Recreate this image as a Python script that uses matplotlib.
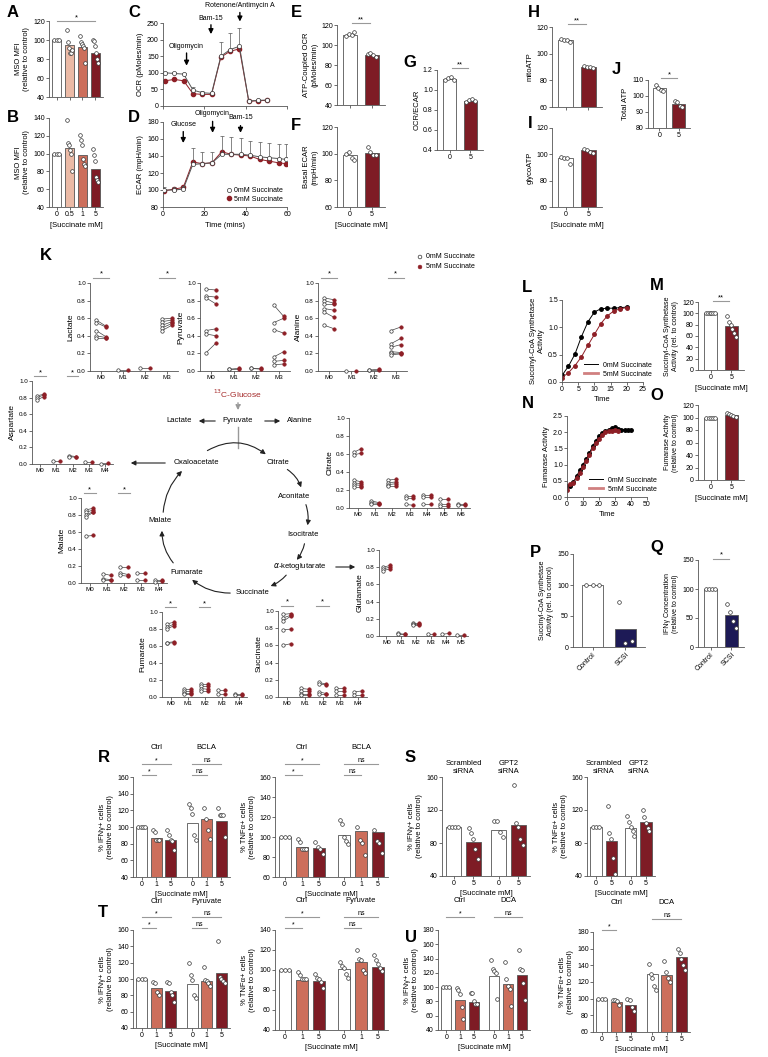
import numpy as np
import matplotlib.pyplot as plt

plt.rcParams['font.family'] = ['Liberation Sans', 'DejaVu Sans']

W, H = 768, 1057
fig = plt.figure(figsize=(W / 100, H / 100), dpi=100)

WHITE = 'white'
PEACH = '#EBBAA6'
SALMON = '#CC6E5B'
DARKRED = '#7E1C25'
NAVY = '#1D1A56'
RED = '#8E1F26'
EDGE = '#555555'

# ---------------- data ----------------
dose4 = ['0', '0.5', '1', '5']
a_mean = [100, 95, 93, 86]
a_pts = [[100, 100, 100], [111, 98, 92, 86, 86, 90], [104, 98, 96, 94, 92, 76], [100, 99, 94, 86, 80, 76]]
b_mean = [100, 106, 98, 83]
b_pts = [[100, 100, 100], [138, 112, 110, 104, 100, 80], [121, 115, 110, 94, 88, 86], [105, 98, 92, 74, 70, 68]]

t_ocr = [1, 5.5, 10, 14.5, 19, 23.5, 28, 32.5, 37, 41.5, 46, 50.5]
ocr0 = [100, 98, 96, 48, 40, 38, 150, 170, 180, 15, 17, 18]
ocr5 = [76, 80, 76, 37, 35, 35, 147, 165, 172, 14, 16, 17]
ocr0_err = [3, 3, 4, 8, 5, 4, 43, 50, 55, 2, 2, 2]

t_ecar = [0.7, 5.2, 9.8, 14.4, 19.0, 23.7, 28.4, 33.0, 37.6, 42.1, 46.7, 51.3, 55.9, 59.5]
ecar0 = [100, 100, 101, 130, 131, 132, 142, 142, 142, 141, 139, 138, 137, 136]
ecar5 = [99, 101, 103, 133, 131, 132, 145, 142, 141, 140, 136, 134, 132, 131]
ecar0_err = [4, 4, 4, 19, 14, 13, 21, 20, 19, 17, 18, 17, 17, 18]

dose2 = ['0', '5']
e_mean = [110, 90]
e_pts = [[109, 111, 110, 113], [91, 92, 90, 88]]
f_mean = [99, 100.5]
f_pts = [[100, 101, 97, 95], [105, 101, 99, 99]]
g_mean = [1.11, 0.89]
g_pts = [[1.10, 1.12, 1.13, 1.10], [0.88, 0.90, 0.91, 0.89]]
h_mean = [110, 90]
h_pts = [[111, 110, 110, 109], [91, 90, 90, 89]]
i_mean = [97, 103]
i_pts = [[98, 97, 97, 93], [104, 103, 102, 101]]
j_mean = [105, 95]
j_pts = [[107, 105, 104, 103], [97, 96, 94, 93]]

# isotopologue fractions: (open = 0mM, filled = 5mM)
lac_open = [[0.58, 0.55, 0.46, 0.40, 0.37], [0.01], [0.03], [0.59, 0.56, 0.52, 0.49, 0.46]]
lac_fill = [[0.51, 0.50, 0.39, 0.38, 0.37], [0.01], [0.03], [0.60, 0.58, 0.56, 0.54, 0.52]]
pyr_open = [[0.93, 0.85, 0.83, 0.46, 0.42, 0.21], [0.02, 0.02], [0.03, 0.03], [0.75, 0.55, 0.47, 0.16, 0.11, 0.07]]
pyr_fill = [[0.92, 0.84, 0.76, 0.48, 0.40, 0.32], [0.02, 0.03], [0.03, 0.02], [0.62, 0.60, 0.43, 0.22, 0.12, 0.08]]
ala_open = [[0.83, 0.80, 0.76, 0.71, 0.67, 0.52], [0.0], [0.01, 0.01], [0.46, 0.31, 0.27, 0.22, 0.20, 0.18]]
ala_fill = [[0.81, 0.77, 0.76, 0.69, 0.61, 0.48], [0.0], [0.01, 0.02], [0.50, 0.37, 0.30, 0.21, 0.19, 0.20]]
asp_open = [[0.82, 0.80, 0.77], [0.04], [0.10, 0.09], [0.03], [0.0]]
asp_fill = [[0.84, 0.83, 0.81], [0.04], [0.09, 0.08], [0.03], [0.01]]
mal_open = [[0.86, 0.83, 0.80, 0.78, 0.55], [0.11, 0.05, 0.03], [0.19, 0.12, 0.09], [0.12, 0.03], [0.04, 0.01]]
mal_fill = [[0.88, 0.86, 0.84, 0.83, 0.56], [0.09, 0.04, 0.03], [0.19, 0.10, 0.08], [0.12, 0.03], [0.04, 0.02]]
fum_open = [[0.86, 0.82, 0.80, 0.64, 0.63], [0.09, 0.07, 0.05, 0.03], [0.15, 0.13, 0.10, 0.07], [0.08, 0.03], [0.04, 0.02]]
fum_fill = [[0.88, 0.86, 0.84, 0.65, 0.64], [0.09, 0.07, 0.05, 0.03], [0.15, 0.13, 0.09, 0.07], [0.08, 0.03], [0.04, 0.02]]
suc_open = [[0.96, 0.92, 0.88, 0.78, 0.60], [0.10, 0.07, 0.04, 0.02], [0.17, 0.15, 0.06, 0.03], [0.10, 0.07, 0.02], [0.06, 0.02]]
suc_fill = [[0.97, 0.95, 0.94, 0.79, 0.62], [0.09, 0.07, 0.04, 0.02], [0.15, 0.14, 0.04, 0.03], [0.10, 0.07, 0.02], [0.07, 0.02]]
cit_open = [[0.62, 0.59, 0.31, 0.28, 0.26, 0.23], [0.08, 0.06, 0.04], [0.31, 0.28, 0.26, 0.24], [0.13, 0.11, 0.04],
            [0.14, 0.12, 0.04], [0.10, 0.05, 0.02], [0.05, 0.03]]
cit_fill = [[0.66, 0.61, 0.29, 0.27, 0.25, 0.23], [0.06, 0.05, 0.04], [0.32, 0.29, 0.27, 0.24], [0.13, 0.11, 0.03],
            [0.14, 0.12, 0.04], [0.10, 0.05, 0.02], [0.05, 0.03]]
glu_open = [[0.80, 0.78, 0.76], [0.03, 0.02], [0.15, 0.14, 0.13], [0.02], [0.02], [0.01]]
glu_fill = [[0.82, 0.80, 0.78], [0.02, 0.02], [0.15, 0.14, 0.13], [0.02], [0.03], [0.01]]

t_scs = [0, 2, 4, 6, 8, 10, 12, 14, 16, 18, 20]
scs0 = [0.12, 0.29, 0.51, 0.83, 1.10, 1.28, 1.34, 1.35, 1.35, 1.36, 1.37]
scs5 = [0.08, 0.17, 0.30, 0.46, 0.67, 0.87, 1.07, 1.21, 1.30, 1.34, 1.36]
m_mean = [100, 77]
m_pts = [[100, 100, 100, 100, 100, 100], [95, 85, 80, 72, 65, 58]]

t_fum0 = list(range(0, 41, 2))
fum0 = [0.33, 0.35, 0.45, 0.65, 0.82, 1.00, 1.17, 1.35, 1.57, 1.73, 1.88, 1.97, 2.03, 2.07, 2.12, 2.15,
        2.10, 2.08, 2.08, 2.08, 2.07]
t_fum5 = list(range(0, 33, 2))
fum5 = [0.22, 0.40, 0.42, 0.60, 0.75, 0.93, 1.12, 1.30, 1.50, 1.66, 1.80, 1.92, 2.00, 2.03, 2.05, 2.07, 2.05]
o_mean = [100, 104]
o_pts = [[100, 100, 100, 100, 100], [107, 106, 104, 102, 101]]

ctrl_scsi = ['Control', 'SCSi']
p_mean = [100, 29]
p_pts = [[100, 100, 100], [72, 6, 10]]
q_mean = [100, 55]
q_pts = [[100, 100, 100, 100], [75, 60, 45, 32]]

dose3 = ['0', '1', '5', '0', '1', '5']
r_ifn_mean = [100, 87, 84, 105, 110, 107]
r_ifn_pts = [[100, 100, 100, 100], [97, 94, 85, 85, 85], [97, 90, 84, 83, 72],
             [128, 123, 116, 91, 84], [123, 110, 97, 86], [123, 115, 115, 115, 88]]
r_tnf_mean = [100, 90, 89, 102, 106, 105]
r_tnf_pts = [[100, 100, 100], [98, 95, 88, 88, 88], [95, 90, 88, 83],
             [117, 113, 100, 96, 93], [110, 97, 94, 82], [107, 96, 94, 84]]
s_ifn_mean = [100, 81, 96, 102]
s_ifn_pts = [[100, 100, 100, 100], [98, 92, 85, 73, 61], [107, 107, 93, 87], [150, 104, 100, 85, 78]]
s_tnf_mean = [100, 83, 98, 106]
s_tnf_pts = [[100, 100, 100], [125, 92, 85, 62, 43], [113, 106, 100, 95, 88], [120, 112, 104, 98, 95]]
t_ifn_mean = [100, 89, 85, 94, 98, 107]
t_ifn_pts = [[100, 100, 100], [96, 95, 84, 80], [96, 95, 84, 81, 72],
             [120, 105, 99, 80, 77], [115, 99, 97, 95, 92], [146, 102, 100, 98, 95]]
t_tnf_mean = [100, 90, 89, 101, 108, 103]
t_tnf_pts = [[100, 100, 100], [98, 95, 91, 91, 91], [96, 92, 91, 88, 82],
             [108, 104, 102, 96, 92], [120, 111, 110, 100, 97], [115, 110, 106, 102, 99]]
u_ifn_mean = [100, 82, 79, 116, 104, 117]
u_ifn_pts = [[100, 100, 100], [99, 96, 90, 72, 55], [92, 92, 80, 77, 77],
             [138, 125, 122, 120, 84], [135, 111, 102, 98, 74], [152, 125, 124, 106, 82]]
u_tnf_mean = [100, 96, 92, 130, 128, 150]
u_tnf_pts = [[100, 100, 100], [99, 98, 97, 93], [100, 98, 90, 85],
             [142, 130, 125, 115, 110], [145, 132, 125, 120], [160, 155, 148, 140, 135]]


# ---------------- helpers ----------------
def box(l, t, r, b):
    ax = fig.add_axes([l / W, 1 - b / H, (r - l) / W, (b - t) / H])
    for s in ('top', 'right'):
        ax.spines[s].set_visible(False)
    for s in ('left', 'bottom'):
        ax.spines[s].set_linewidth(0.6)
        ax.spines[s].set_color('#555555')
    ax.tick_params(width=0.6, length=2, labelsize=5, pad=1, color='#555555')
    ax.patch.set_alpha(0)
    return ax


def letter(x, y, s):
    fig.text(x / W, 1 - y / H, s, fontsize=12, fontweight='bold', ha='left', va='top')


def bars(ax, xs, means, pts, colors, width=0.7, ms=7):
    ax.bar(xs, means, width=width, color=colors, edgecolor=EDGE, linewidth=0.6, zorder=2)
    for x, p in zip(xs, pts):
        n = len(p)
        off = np.linspace(-width * 0.3, width * 0.3, n) if n > 1 else np.zeros(1)
        ax.scatter(x + off, p, s=ms, facecolor='white', edgecolor='#333333', linewidth=0.5,
                   zorder=3, clip_on=False)


def sig(ax, x0, x1, y, txt, fs=5.5):
    ax.plot([x0, x1], [y, y], color='#999999', lw=0.8, clip_on=False)
    ax.text((x0 + x1) / 2, y, txt, ha='center', va='bottom', fontsize=fs, clip_on=False)


def ylab(ax, s, fs=5.5, pad=2):
    ax.set_ylabel(s, fontsize=fs, labelpad=pad)


def iso(ax, opn, fil, stars, name):
    n = len(opn)
    dx = 0.22
    for i in range(n):
        for a, b in zip(opn[i], fil[i]):
            ax.plot([i - dx, i + dx], [a, b], color='#444444', lw=0.5, zorder=2)
        ax.scatter(np.full(len(opn[i]), i - dx), opn[i], s=6, facecolor='white', edgecolor='#333333',
                   linewidth=0.5, zorder=3, clip_on=False)
        ax.scatter(np.full(len(fil[i]), i + dx), fil[i], s=6, facecolor=RED, edgecolor=RED,
                   linewidth=0.5, zorder=3, clip_on=False)
    for i in stars:
        sig(ax, i - 0.35, i + 0.35, 1.06, '*')
    ax.set_ylim(0, 1)
    ax.set_yticks(np.arange(0, 1.01, 0.2))
    ax.set_yticklabels(['%.1f' % v for v in np.arange(0, 1.01, 0.2)])
    ax.set_xlim(-0.5, n - 0.5)
    ax.set_xticks(range(n))
    ax.set_xticklabels(['M%d' % i for i in range(n)])
    ax.tick_params(labelsize=4.5)
    ylab(ax, name, fs=6)


def line_legend(ax):
    ax.legend(handles=[plt.Line2D([], [], color='k', lw=0.7), plt.Line2D([], [], color='#D08080', lw=2)],
              labels=['0mM Succinate', '5mM Succinate'], loc='lower left', bbox_to_anchor=(0.22, 0.0),
              fontsize=5, frameon=False, handlelength=2.0, borderaxespad=0.2, labelspacing=0.3)


# ---------------- A / B ----------------
ax = box(49, 21, 103, 97)
bars(ax, range(4), a_mean, a_pts, [WHITE, PEACH, SALMON, DARKRED])
ax.set_ylim(40, 120)
ax.set_yticks(range(40, 121, 20))
ax.set_xlim(-0.6, 3.6)
ax.set_xticks(range(4))
ax.set_xticklabels([])
sig(ax, 0, 3, 120, '*')
ylab(ax, 'MSO MFI\n(relative to control)')

ax = box(49, 118, 103, 207)
bars(ax, range(4), b_mean, b_pts, [WHITE, PEACH, SALMON, DARKRED])
ax.set_ylim(40, 140)
ax.set_yticks(range(40, 141, 20))
ax.set_xlim(-0.6, 3.6)
ax.set_xticks(range(4))
ax.set_xticklabels(dose4)
ax.set_xlabel('[Succinate mM]', fontsize=5.5, labelpad=3)
ylab(ax, 'MSO MFI\n(relative to control)')

# ---------------- C / D ----------------
ax = box(163, 23, 287, 106)
ax.errorbar(t_ocr, ocr0, yerr=[np.zeros(len(ocr0)), ocr0_err], color='#555555', lw=0.7, elinewidth=0.5,
            capsize=1.5, capthick=0.5, marker='o', ms=3, mfc='white', mec='#333333', mew=0.5, zorder=3)
ax.plot(t_ocr, ocr5, color=RED, lw=0.7, marker='o', ms=3, mfc=RED, mec=RED, zorder=2)
ax.set_xlim(0, 60)
ax.set_ylim(0, 250)
ax.set_yticks(range(0, 251, 50))
ax.set_xticks([0, 20, 40, 60])
ax.set_xticklabels([])
ylab(ax, 'OCR (pMoles/min)')
for t, y0, y1, lab, ly in [(11.4, 168, 113, 'Oligomycin', 180), (23.2, 253, 208, 'Bam-15', 265),
                           (37.2, 290, 246, 'Rotenone/Antimycin A', 302)]:
    ax.annotate('', xy=(t, y1), xytext=(t, y0), annotation_clip=False,
                arrowprops=dict(arrowstyle='-|>', color='k', lw=1.0, mutation_scale=7))
    ax.text(t, ly, lab, ha='center', va='center', fontsize=5, clip_on=False)

ax = box(163, 122, 287, 207)
ax.errorbar(t_ecar, ecar0, yerr=[np.zeros(len(ecar0)), ecar0_err], color='#555555', lw=0.7,
            elinewidth=0.5, capsize=1.5, capthick=0.5, marker='o', ms=3, mfc='white', mec='#333333',
            mew=0.5, zorder=3)
ax.plot(t_ecar, ecar5, color=RED, lw=0.7, marker='o', ms=3, mfc=RED, mec=RED, zorder=2)
ax.set_xlim(0, 60)
ax.set_ylim(80, 180)
ax.set_yticks(range(80, 181, 20))
ax.set_xticks([0, 20, 40, 60])
ax.set_xlabel('Time (mins)', fontsize=5.5, labelpad=3)
ylab(ax, 'ECAR (mpH/min)')
for t, y0, y1, lab, ly in [(9.8, 172, 152, 'Glucose', 177), (24, 184, 164, 'Oligomycin', 190),
                           (37.5, 179, 164, 'Bam-15', 185)]:
    ax.annotate('', xy=(t, y1), xytext=(t, y0), annotation_clip=False,
                arrowprops=dict(arrowstyle='-|>', color='k', lw=1.0, mutation_scale=7))
    ax.text(t, ly, lab, ha='center', va='center', fontsize=5, clip_on=False)
ax.legend([plt.Line2D([], [], ls='', marker='o', ms=3, mfc='white', mec='#333333', mew=0.5),
           plt.Line2D([], [], ls='', marker='o', ms=3, mfc=RED, mec=RED)],
          ['0mM Succinate', '5mM Succinate'], loc='lower right', fontsize=5, frameon=False,
          handlelength=0.8, handletextpad=0.3, borderaxespad=0.2, labelspacing=0.2)


# ---------------- E - J ----------------
def two_bar(l, t, r, b, means, pts, ylim, ticks, colors=(WHITE, DARKRED), xlabels=True, fmt=None):
    ax = box(l, t, r, b)
    bars(ax, [0, 1], means, pts, list(colors), width=0.65)
    ax.set_ylim(*ylim)
    ax.set_yticks(ticks)
    if fmt:
        ax.set_yticklabels([fmt % v for v in ticks])
    ax.set_xlim(-0.6, 1.6)
    ax.set_xticks([0, 1])
    ax.set_xticklabels(dose2 if xlabels else [])
    return ax


ax = two_bar(337, 25, 385, 105, e_mean, e_pts, (40, 120), range(40, 121, 20), xlabels=False)
sig(ax, 0.1, 0.9, 122, '**')
ylab(ax, 'ATP-Coupled OCR\n(pMoles/min)')
ax = two_bar(337, 127, 385, 207, f_mean, f_pts, (60, 120), range(60, 121, 20))
ylab(ax, 'Basal ECAR\n(mpH/min)')
ax.set_xlabel('[Succinate mM]', fontsize=5.5, labelpad=3)
ax = two_bar(437, 70, 483, 150, g_mean, g_pts, (0.4, 1.2), np.arange(0.4, 1.21, 0.2), fmt='%.1f')
sig(ax, 0.1, 0.9, 1.22, '**')
ylab(ax, 'OCR/ECAR')
ax = two_bar(552, 27, 602, 107, h_mean, h_pts, (60, 120), range(60, 121, 20), xlabels=False)
sig(ax, 0.1, 0.9, 122, '**')
ylab(ax, 'mitoATP')
ax = two_bar(552, 128, 602, 207, i_mean, i_pts, (60, 120), range(60, 121, 20))
ylab(ax, 'glycoATP')
ax.set_xlabel('[Succinate mM]', fontsize=5.5, labelpad=3)
ax = two_bar(648, 80, 690, 128, j_mean, j_pts, (80, 110), range(80, 111, 10))
sig(ax, 0.1, 0.9, 111, '*')
ylab(ax, 'Total ATP')

# ---------------- K ----------------
iso(box(90, 283, 178, 371), lac_open, lac_fill, [0, 3], 'Lactate')
iso(box(200, 283, 290, 371), pyr_open, pyr_fill, [], 'Pyruvate')
iso(box(318, 283, 407, 371), ala_open, ala_fill, [0, 3], 'Alanine')
iso(box(32, 381, 113, 464), asp_open, asp_fill, [0, 2], 'Aspartate')
iso(box(81, 498, 167, 583), mal_open, mal_fill, [0, 2], 'Malate')
iso(box(162, 612, 247, 697), fum_open, fum_fill, [0, 2], 'Fumarate')
iso(box(278, 611, 367, 697), suc_open, suc_fill, [0, 2], 'Succinate')
iso(box(349, 418, 470, 508), cit_open, cit_fill, [], 'Citrate')
iso(box(379, 550, 468, 636), glu_open, glu_fill, [], 'Glutamate')

# overlay in pixel coordinates for legend + pathway
lg = fig.add_axes([0, 0, 1, 1])
lg.set_xlim(0, W)
lg.set_ylim(H, 0)
lg.axis('off')
lg.scatter([420, 420], [257, 267], s=7, facecolor=['white', RED], edgecolor=['#333333', RED], lw=0.5)
lg.text(426, 257, '0mM Succinate', fontsize=5, va='center')
lg.text(426, 267, '5mM Succinate', fontsize=5, va='center')

tfs = 5.5
lg.text(238, 394, '$^{13}$C-Glucose', color='#A52A2A', fontsize=6, ha='center', va='center')
lg.annotate('', xy=(238, 413), xytext=(238, 400),
            arrowprops=dict(arrowstyle='-|>', color='#999999', lw=1.0, ls=(0, (1, 1)), mutation_scale=7))
for x, y, s in [(179, 420, 'Lactate'), (238, 420, 'Pyruvate'), (300, 420, 'Alanine'),
                (196, 463, 'Oxaloacetate'), (278, 462, 'Citrate'), (294, 497, 'Aconitate'),
                (303, 535, 'Isocitrate'), (300, 567, r'$\alpha$-ketoglutarate'), (253, 593, 'Succinate'),
                (187, 572, 'Fumarate'), (160, 521, 'Malate')]:
    lg.text(x, y, s, fontsize=tfs, ha='center', va='center')
arrow_kw = dict(arrowstyle='-|>', color='#222222', lw=0.8, mutation_scale=7)
for (x0, y0), (x1, y1) in [((218, 421), (196, 421)), ((262, 421), (283, 421)),
                           ((168, 463), (128, 463)), ((333, 567), (358, 567))]:
    lg.annotate('', xy=(x1, y1), xytext=(x0, y0), arrowprops=arrow_kw)
lg.plot([238, 238], [427, 448], color='#999999', lw=1.0)
for (x0, y0), (x1, y1), rad in [((205, 452), (268, 456), -0.35), ((285, 468), (302, 490), -0.2),
                                ((305, 502), (307, 528), -0.15), ((305, 541), (295, 562), -0.15),
                                ((288, 573), (268, 587), -0.15), ((233, 593), (190, 578), -0.2),
                                ((175, 565), (162, 528), -0.2), ((163, 515), (184, 469), -0.2)]:
    lg.annotate('', xy=(x1, y1), xytext=(x0, y0),
                arrowprops=dict(arrow_kw, connectionstyle='arc3,rad=%.2f' % rad))

# ---------------- L - Q ----------------
ax = box(562, 300, 643, 382)
ax.plot(t_scs, scs0, color='k', lw=0.7, marker='o', ms=2.5)
ax.plot(t_scs, scs5, color=RED, lw=0.7, marker='o', ms=2.5)
ax.set_xlim(0, 25)
ax.set_ylim(0, 1.5)
ax.set_yticks([0, 0.5, 1.0, 1.5])
ax.set_yticklabels(['0.0', '0.5', '1.0', '1.5'])
ax.set_xticks(range(0, 26, 5))
ax.set_xlabel('Time', fontsize=5.5, labelpad=2)
ylab(ax, 'Succinyl-CoA Synthetase\nActivity')
line_legend(ax)

ax = two_bar(698, 302, 744, 370, m_mean, m_pts, (0, 120), range(0, 121, 20))
sig(ax, 0.1, 0.9, 121, '**')
ylab(ax, 'Succinyl-CoA Synthetase\nActivity (rel. to control)', fs=5)
ax.set_xlabel('[Succinate mM]', fontsize=5.5, labelpad=3)

ax = box(567, 416, 647, 497)
ax.plot(t_fum0, fum0, color='k', lw=0.7, marker='o', ms=2.5)
ax.plot(t_fum5, fum5, color=RED, lw=0.7, marker='o', ms=2.5)
ax.set_xlim(0, 50)
ax.set_ylim(0, 2.5)
ax.set_yticks(np.arange(0, 2.51, 0.5))
ax.set_yticklabels(['%.1f' % v for v in np.arange(0, 2.51, 0.5)])
ax.set_xticks(range(0, 51, 10))
ax.set_xlabel('Time', fontsize=5.5, labelpad=2)
ylab(ax, 'Fumarase Activity')
line_legend(ax)

ax = two_bar(698, 405, 744, 480, o_mean, o_pts, (0, 120), range(0, 121, 20))
ylab(ax, 'Fumarase Activity\n(relative to control)', fs=5)
ax.set_xlabel('[Succinate mM]', fontsize=5.5, labelpad=3)

ax = two_bar(573, 554, 645, 647, p_mean, p_pts, (0, 150), [0, 50, 100, 150], colors=(WHITE, NAVY))
ax.set_xticklabels(ctrl_scsi, rotation=45, ha='right', rotation_mode='anchor')
ylab(ax, 'Succinyl-CoA Synthetase\nActivity (rel. to control)', fs=5)

ax = two_bar(698, 560, 744, 647, q_mean, q_pts, (0, 150), [0, 50, 100, 150], colors=(WHITE, NAVY))
ax.set_xticklabels(ctrl_scsi, rotation=45, ha='right', rotation_mode='anchor')
sig(ax, 0.1, 0.9, 152, '*')
ylab(ax, 'IFNγ Concentration\n(relative to control)', fs=5)


# ---------------- R - U ----------------
def six_bar(l, t, r, b, means, pts, ylim, ticks, lab, groups, sigs):
    ax = box(l, t, r, b)
    xs = [0, 1, 2, 3.5, 4.5, 5.5]
    bars(ax, xs, means, pts, [WHITE, SALMON, DARKRED] * 2, width=0.75)
    ax.set_ylim(*ylim)
    ax.set_yticks(ticks)
    ax.set_xlim(-0.6, 6.1)
    ax.set_xticks(xs)
    ax.set_xticklabels(dose3)
    ax.set_xlabel('[Succinate mM]', fontsize=5.5, labelpad=2)
    ylab(ax, lab)
    top = ylim[1]
    step = (ylim[1] - ylim[0]) * 0.1
    for gx, gname, (s_hi, s_lo) in zip([1, 4.5], groups, sigs):
        ax.text(gx, top + 2.6 * step, gname, ha='center', va='bottom', fontsize=5.5, clip_on=False)
        if s_hi:
            sig(ax, gx - 1, gx + 1, top + 1.3 * step, s_hi, fs=5)
        if s_lo:
            sig(ax, gx - 1, gx, top + 0.2 * step, s_lo, fs=5)
    return ax


IFN = '% IFNγ+ cells\n(relative to control)'
TNF = '% TNFα+ cells\n(relative to control)'
six_bar(133, 777, 230, 877, r_ifn_mean, r_ifn_pts, (40, 160), range(40, 161, 20), IFN,
        ['Ctrl', 'BCLA'], [('*', '*'), ('ns', 'ns')])
six_bar(275, 777, 388, 877, r_tnf_mean, r_tnf_pts, (60, 160), range(60, 161, 20), TNF,
        ['Ctrl', 'BCLA'], [('*', '*'), ('ns', 'ns')])
six_bar(133, 930, 230, 1028, t_ifn_mean, t_ifn_pts, (40, 160), range(40, 161, 20), IFN,
        ['Ctrl', 'Pyruvate'], [('*', '*'), ('ns', 'ns')])
six_bar(275, 930, 388, 1030, t_tnf_mean, t_tnf_pts, (40, 140), range(40, 141, 20), TNF,
        ['Ctrl', 'Pyruvate'], [('*', '*'), ('ns', 'ns')])
six_bar(438, 930, 530, 1030, u_ifn_mean, u_ifn_pts, (40, 180), range(40, 181, 20), IFN,
        ['Ctrl', 'DCA'], [('*', None), ('ns', None)])
six_bar(593, 932, 690, 1032, u_tnf_mean, u_tnf_pts, (60, 180), range(60, 181, 20), TNF,
        ['Ctrl', 'DCA'], [(None, '*'), ('ns', None)])


def four_bar(l, t, r, b, means, pts, lab):
    ax = box(l, t, r, b)
    xs = [0, 1, 2.3, 3.3]
    bars(ax, xs, means, pts, [WHITE, DARKRED] * 2, width=0.75)
    ax.set_ylim(40, 160)
    ax.set_yticks([40, 80, 120, 160])
    ax.set_xlim(-0.6, 3.9)
    ax.set_xticks(xs)
    ax.set_xticklabels(['0', '5', '0', '5'])
    ax.set_xlabel('[Succinate mM]', fontsize=5.5, labelpad=2)
    ylab(ax, lab)
    ax.text(0.5, 163, 'Scrambled\nsiRNA', ha='center', va='bottom', fontsize=5.5, clip_on=False)
    ax.text(2.8, 163, 'GPT2\nsiRNA', ha='center', va='bottom', fontsize=5.5, clip_on=False)
    return ax


four_bar(442, 777, 530, 876, s_ifn_mean, s_ifn_pts, IFN)
four_bar(587, 777, 655, 876, s_tnf_mean, s_tnf_pts, TNF)

# ---------------- panel letters ----------------
for x, y, s in [(7, 5, 'A'), (7, 110, 'B'), (128, 5, 'C'), (128, 110, 'D'), (291, 5, 'E'),
                (291, 118, 'F'), (403, 55, 'G'), (528, 5, 'H'), (528, 116, 'I'), (612, 62, 'J'),
                (40, 248, 'K'), (522, 280, 'L'), (650, 278, 'M'), (522, 396, 'N'), (650, 388, 'O'),
                (530, 545, 'P'), (650, 540, 'Q'), (98, 750, 'R'), (405, 750, 'S'), (98, 905, 'T'),
                (405, 930, 'U')]:
    letter(x, y, s)

fig.savefig('out.png', dpi=100)
